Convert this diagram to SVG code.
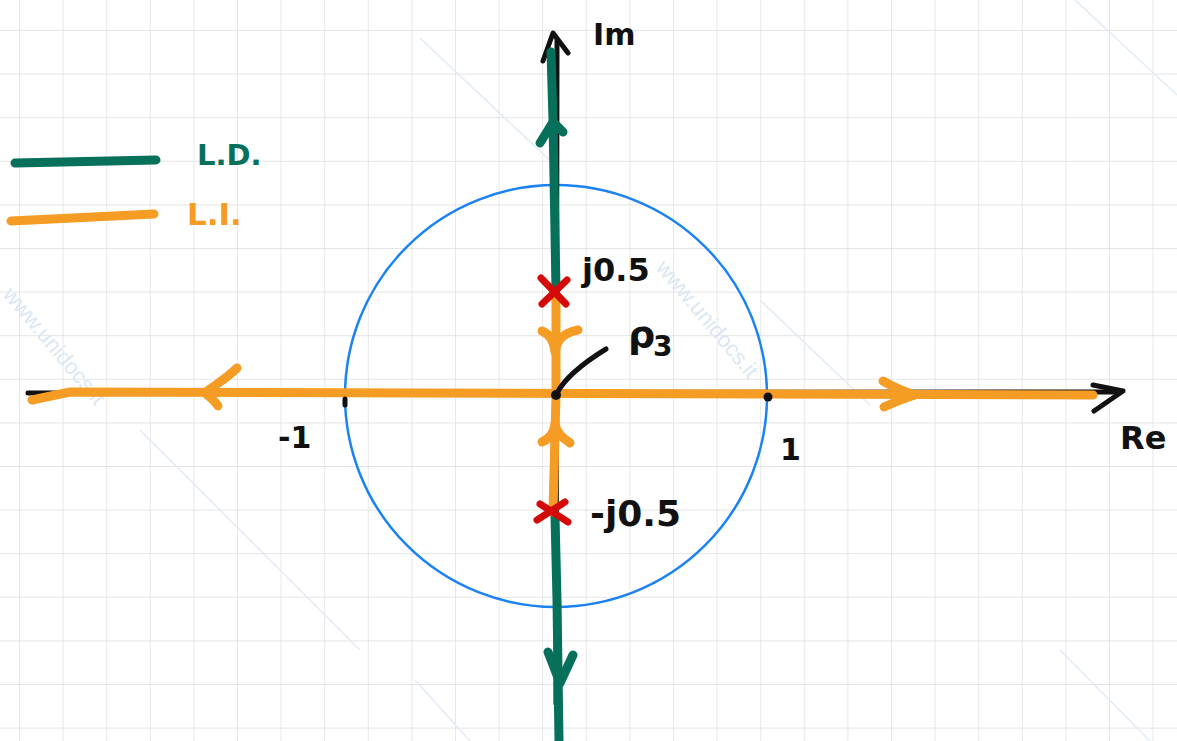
<svg xmlns="http://www.w3.org/2000/svg" width="1177" height="741" viewBox="0 0 1177 741">
<defs>
<pattern id="grid" x="19" y="30" width="43.6" height="43.6" patternUnits="userSpaceOnUse">
<path d="M0 0 H43.6 M0 0 V43.6" fill="none" stroke="#dcdcdc" stroke-width="1.3"/>
</pattern>
</defs>
<style>
.lbl{font-family:"DejaVu Sans","Liberation Sans",sans-serif;font-weight:bold;fill:#111}
.wm{font-family:"Liberation Sans",sans-serif;font-size:22px;fill:#dbe7f4}
.wml{stroke:#e2ebf5;stroke-width:1.5;fill:none}
.green{stroke:#07705a;stroke-width:9;stroke-linecap:round;stroke-linejoin:round;fill:none}
.orange{stroke:#f59c24;stroke-width:9;stroke-linecap:round;stroke-linejoin:round;fill:none}
.blk{stroke:#111;stroke-width:5;stroke-linecap:round;stroke-linejoin:round;fill:none}
.red{stroke:#d40a0a;stroke-width:7;stroke-linecap:round;fill:none}
</style>
<rect width="1177" height="741" fill="#ffffff"/>
<rect width="1177" height="741" fill="url(#grid)"/>
<g id="watermark">
<path class="wml" d="M420 38 L560 170 M140 430 L360 650 M415 680 L470 741 M1075 0 L1177 95 M1060 650 L1150 741 M760 300 L870 405"/>
<text class="wm" transform="translate(655 268) rotate(50)">www.unidocs.it</text>
<text class="wm" transform="translate(2 295) rotate(50)">www.unidocs.it</text>
</g>
<g id="circle"><circle cx="556" cy="396" r="211" fill="none" stroke="#1a82f2" stroke-width="2.5"/></g>
<g id="axes">
<path class="blk" d="M28 393 L1120 392" stroke-width="3"/>
<path class="blk" d="M1093 385 L1123 391 L1094 411"/>
<path class="blk" d="M557 40 L556 704" stroke-width="3"/>
<path class="blk" d="M543 61 L553 33 L568 53"/>
</g>
<g id="connectors">
<path class="green" d="M551 52 L553 120 L556 290"/>
<path class="green" d="M540 143 L553 122 L563 132"/>
<path class="green" d="M555 516 L557 600 L559 741"/>
<path class="green" d="M548 652 L560 683 L573 655"/>
<path class="orange" d="M32 400 L70 392 L1093 395"/>
<path class="orange" d="M237 368 C225 380 210 388 205 393 C210 397 215 401 218 406"/>
<path class="orange" d="M883 381 C895 388 905 392 915 395 C905 398 895 402 884 407"/>
<path class="orange" d="M556 300 L556 395 L553 512"/>
<path class="orange" d="M542 331 C549 334 554 340 555 352 C557 340 563 333 578 330"/>
<path class="orange" d="M542 442 C549 439 554 434 555 424 C557 434 563 438 570 443"/>
</g>
<g id="poles">
<path class="red" d="M541 278 L566 304 M567 280 L542 304"/>
<path class="red" d="M537 520 L565 502 M540 504 L568 522"/>
</g>
<g id="points">
<circle cx="556" cy="395" r="5" fill="#111"/>
<circle cx="768" cy="397" r="4.5" fill="#111"/>
<path class="blk" d="M345 399 L345 405" stroke-width="3"/>
<path class="blk" d="M606 349 C585 362 566 376 557 393" stroke-width="4"/>
</g>
<g id="labels">
<text class="lbl" x="593" y="45" font-size="30">Im</text>
<text class="lbl" x="1120" y="449" font-size="32">Re</text>
<text class="lbl" x="582" y="281" font-size="32">j0.5</text>
<text class="lbl" x="628" y="347" font-size="38">ρ</text>
<text class="lbl" x="653" y="356" font-size="28">3</text>
<text class="lbl" x="278" y="448" font-size="30">-1</text>
<text class="lbl" x="780" y="460" font-size="30">1</text>
<text class="lbl" x="590" y="526" font-size="36">-j0.5</text>
</g>
<g id="legend">
<path class="green" d="M15 163 L156 160"/>
<path class="orange" d="M11 221 L154 214"/>
<text class="lbl" x="197" y="165" font-size="29" style="fill:#07705a">L.D.</text>
<text class="lbl" x="187" y="225" font-size="31" style="fill:#f59c24">L.I.</text>
</g>
</svg>
